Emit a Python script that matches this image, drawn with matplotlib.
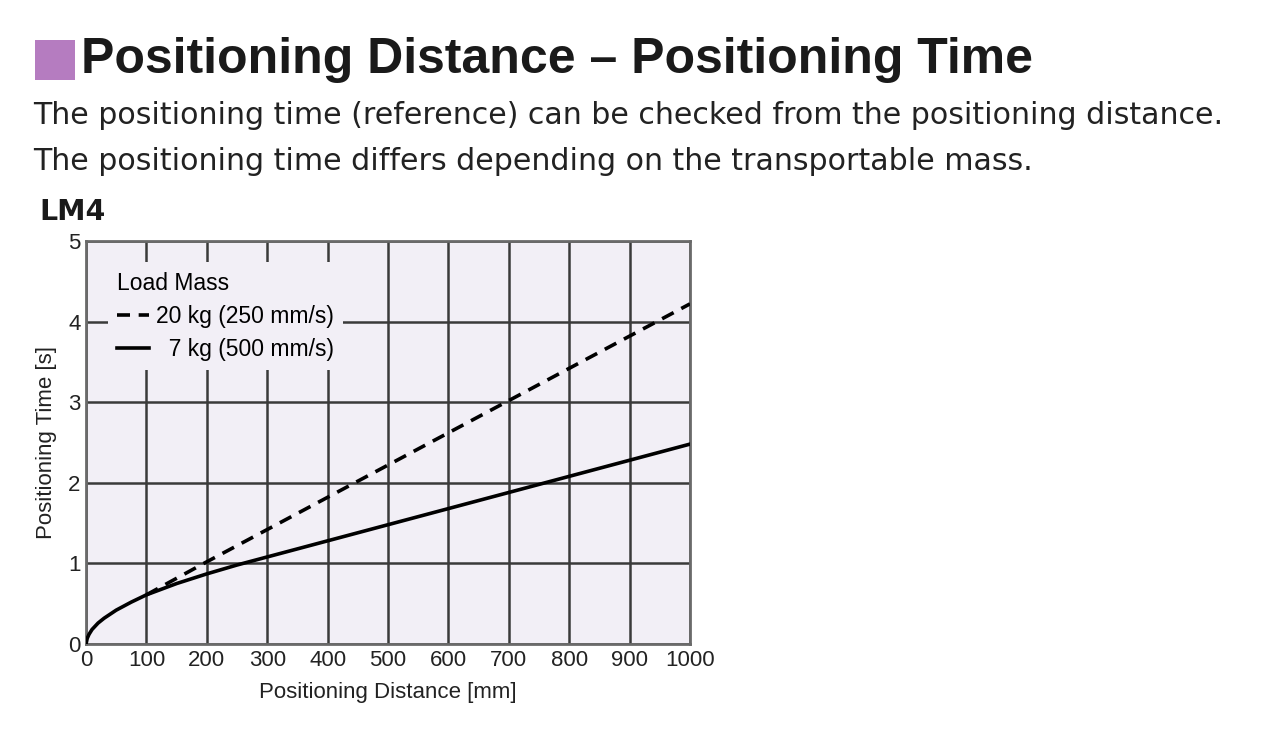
import numpy as np
import matplotlib.pyplot as plt
from matplotlib.patches import Rectangle

# ==========================================================
# DONNÉES
# ==========================================================

dist_7kg = [0, 2, 5, 10, 20, 30, 50, 75, 100, 150, 200, 250, 300, 400, 500,
            600, 700, 800, 900, 1000]
time_7kg = [0, 0.07, 0.12, 0.18, 0.26, 0.32, 0.42, 0.52, 0.61, 0.75, 0.87,
            0.98, 1.08, 1.28, 1.48, 1.68, 1.88, 2.08, 2.28, 2.48]

dist_20kg = [100, 200, 300, 400, 500, 600, 700, 800, 900, 1000]
time_20kg = [0.61, 1.02, 1.42, 1.82, 2.22, 2.62, 3.02, 3.42, 3.82, 4.22]

x_ticks = [0, 100, 200, 300, 400, 500, 600, 700, 800, 900, 1000]
y_ticks = [0, 1, 2, 3, 4, 5]

label_20kg = '20 kg (250 mm/s)'
label_7kg = '  7 kg (500 mm/s)'

# ==========================================================
# STYLE
# ==========================================================

plt.rcParams['font.family'] = ['Liberation Sans', 'DejaVu Sans']
sans = ['Liberation Sans', 'DejaVu Sans']
wide = ['DejaVu Sans']

fig = plt.figure(figsize=(12.8, 7.53), dpi=100)
fig.patch.set_facecolor('white')

# Titre
fig.patches.append(Rectangle((35 / 1280, 1 - 80 / 753), 40 / 1280, 40 / 753,
                             transform=fig.transFigure, facecolor='#b57cc0',
                             edgecolor='none'))
fig.text(81 / 1280, 1 - 60 / 753, 'Positioning Distance \u2013 Positioning Time',
         family=sans, fontsize=36, fontweight='bold', color='#1a1a1a',
         va='center', ha='left')
fig.text(33 / 1280, 1 - 116 / 753,
         'The positioning time (reference) can be checked from the positioning distance.',
         family=wide, fontsize=21.6, color='#222222', va='center', ha='left')
fig.text(33 / 1280, 1 - 162 / 753,
         'The positioning time differs depending on the transportable mass.',
         family=wide, fontsize=21.6, color='#222222', va='center', ha='left')
fig.text(39 / 1280, 1 - 212 / 753, 'LM4', family=wide, fontsize=20.5,
         fontweight='bold', color='#1a1a1a', va='center', ha='left')

# ==========================================================
# GRAPHIQUE
# ==========================================================

ax = fig.add_axes([86 / 1280, 1 - 644 / 753, 604 / 1280, 403 / 753])
ax.set_facecolor('#f2eff6')

ax.plot(dist_20kg, time_20kg, color='black', linestyle=(0, (3.6, 2.4)),
        linewidth=2.6, label=label_20kg, zorder=3)
ax.plot(dist_7kg, time_7kg, color='black', linestyle='-', linewidth=2.6,
        label=label_7kg, zorder=3)

ax.set_xlim(0, 1000)
ax.set_ylim(0, 5)
ax.set_xticks(x_ticks)
ax.set_yticks(y_ticks)
ax.grid(True, color='#3a3a3a', linewidth=1.8)
ax.set_axisbelow(True)

for s in ax.spines.values():
    s.set_color('#6a6a6a')
    s.set_linewidth(2)

ax.tick_params(length=0, labelsize=16, colors='#222222', pad=4)

ax.set_xlabel('Positioning Distance [mm]', fontsize=16,
              color='#222222', labelpad=8)
ax.set_ylabel('Positioning Time [s]', fontsize=16,
              color='#222222', labelpad=8)

leg = ax.legend(loc='upper left', bbox_to_anchor=(0.036, 0.947), title='Load Mass',
                frameon=True, handlelength=1.4, handletextpad=0.3,
                borderpad=0.4, borderaxespad=0, labelspacing=0.45,
                prop={'size': 16.5}, title_fontsize=16.5)
leg.get_frame().set_facecolor('#f2eff6')
leg.get_frame().set_edgecolor('none')
leg.get_frame().set_alpha(1)
leg.get_frame().set_boxstyle('square', pad=0)
leg._legend_box.align = 'left'

fig.savefig('out.png', dpi=100)
